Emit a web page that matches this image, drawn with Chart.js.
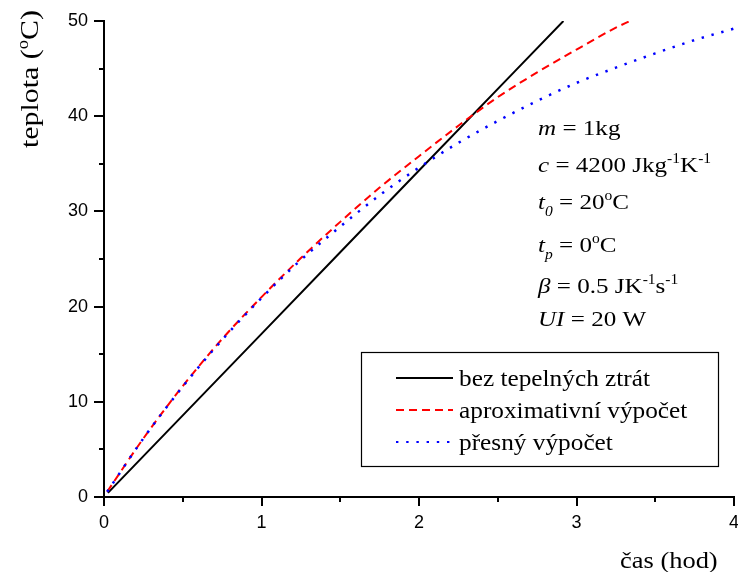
<!DOCTYPE html>
<html><head><meta charset="utf-8">
<script src="https://cdn.jsdelivr.net/npm/chart.js@4"></script>
<style>html,body{margin:0;padding:0;background:#fff}#wrap{width:738px;height:572px;position:relative}</style>
</head><body><div id="wrap"><canvas id="c" width="738" height="572"></canvas></div>
<script>
// ---- data ----
const timeNoLoss = [0.025, 1, 2, 2.917];
const tempNoLoss = [0.43, 17.14, 34.29, 50];
const timeApprox = [0.02, 0.25, 0.5, 0.75, 1, 1.25, 1.5, 1.75, 2, 2.25, 2.5, 2.75, 3, 3.25, 3.34];
const tempApprox = [0.55, 6.15, 11.65, 16.6, 21.0, 25.1, 28.9, 32.5, 35.8, 39.0, 42.0, 44.6, 47.0, 49.3, 50.0];
const timeExact = [0.02, 0.25, 0.5, 0.75, 1, 1.25, 1.5, 1.75, 2, 2.25, 2.5, 2.75, 3, 3.25, 3.5, 3.75, 4];
const tempExact = [0.55, 6.15, 11.6, 16.5, 20.9, 24.9, 28.4, 31.7, 34.6, 37.2, 39.5, 41.6, 43.5, 45.1, 46.6, 48.0, 49.2];
const xMajorTicks = [0, 1, 2, 3, 4];
const xMinorTicks = [0.5, 1.5, 2.5, 3.5];
const yMajorTicks = [0, 10, 20, 30, 40, 50];
const yMinorTicks = [5, 15, 25, 35, 45];
const seriesLabels = ['bez tepelných ztrát', 'aproximativní výpočet', 'přesný výpočet'];
const xTitle = 'čas (hod)';
const yTitle = [{t:'teplota ('}, {t:'o', sup:true}, {t:'C)'}];
const paramLines = [
  [{t:'m', i:true}, {t:' = 1kg'}],
  [{t:'c', i:true}, {t:' = 4200 Jkg'}, {t:'-1', sup:true}, {t:'K'}, {t:'-1', sup:true}],
  [{t:'t', i:true}, {t:'0', i:true, sub:true}, {t:' = 20'}, {t:'o', sup:true}, {t:'C'}],
  [{t:'t', i:true}, {t:'p', i:true, sub:true}, {t:' = 0'}, {t:'o', sup:true}, {t:'C'}],
  [{t:'β', i:true}, {t:' = 0.5 JK'}, {t:'-1', sup:true}, {t:'s'}, {t:'-1', sup:true}],
  [{t:'UI', i:true}, {t:' = 20 W'}]
];

const toXY = (xs, ys) => xs.map((x, k) => ({x: x, y: ys[k]}));
const SERIF = '"Liberation Serif", "Times New Roman", serif';
const SANS = '"Liberation Sans", Arial, sans-serif';

function drawRich(ctx, segs, size) {
  let cx = 0;
  for (const s of segs) {
    const small = s.sup || s.sub;
    const fs = small ? size * 0.62 : size;
    ctx.font = (s.i ? 'italic ' : '') + fs + 'px ' + SERIF;
    const dy = s.sup ? -size * 0.40 : (s.sub ? size * 0.32 : 0);
    ctx.fillText(s.t, cx, dy);
    cx += ctx.measureText(s.t).width;
  }
  return cx;
}

const decor = {
  id: 'decor',
  afterDraw(chart) {
    const ctx = chart.ctx;
    const xs = chart.scales.x, ys = chart.scales.y;
    const ax = chart.chartArea.left, ay = chart.chartArea.bottom;
    ctx.save();
    ctx.strokeStyle = '#000';
    ctx.lineWidth = 2;
    ctx.beginPath();
    xMajorTicks.forEach(v => { const p = Math.round(xs.getPixelForValue(v)); ctx.moveTo(p, ay); ctx.lineTo(p, ay + 9); });
    xMinorTicks.forEach(v => { const p = Math.round(xs.getPixelForValue(v)); ctx.moveTo(p, ay); ctx.lineTo(p, ay + 5); });
    yMajorTicks.forEach(v => { const p = Math.round(ys.getPixelForValue(v)); ctx.moveTo(ax, p); ctx.lineTo(ax - 10, p); });
    yMinorTicks.forEach(v => { const p = Math.round(ys.getPixelForValue(v)); ctx.moveTo(ax, p); ctx.lineTo(ax - 5, p); });
    ctx.stroke();

    ctx.fillStyle = '#000';
    ctx.textBaseline = 'alphabetic';
    ctx.textAlign = 'left';
    // parameter block
    const baselines = [135, 172, 209, 252, 293, 326];
    paramLines.forEach((line, k) => {
      ctx.save(); ctx.translate(538, baselines[k]); ctx.scale(1.14, 1);
      drawRich(ctx, line, 22);
      ctx.restore();
    });
    // legend box
    ctx.lineWidth = 1.2;
    ctx.strokeStyle = '#000';
    ctx.strokeRect(361.5, 352.5, 357, 114);
    const rows = [378, 410, 442];
    chart.data.datasets.forEach((ds, k) => {
      ctx.save();
      ctx.strokeStyle = ds.borderColor;
      ctx.lineWidth = 2;
      ctx.setLineDash(ds.borderDash || []);
      ctx.beginPath(); ctx.moveTo(396, rows[k]); ctx.lineTo(453, rows[k]); ctx.stroke();
      ctx.restore();
      ctx.save(); ctx.translate(459, rows[k] + 8); ctx.scale(1.1, 1);
      ctx.font = '23px ' + SERIF;
      ctx.fillText(ds.label, 0, 0);
      ctx.restore();
    });
    // x title
    ctx.save(); ctx.translate(620, 568); ctx.scale(1.15, 1);
    ctx.font = '23px ' + SERIF; ctx.fillText(xTitle, 0, 0);
    ctx.restore();
    // y title
    ctx.save(); ctx.translate(38, 148); ctx.rotate(-Math.PI / 2); ctx.scale(1.15, 1);
    drawRich(ctx, yTitle, 26);
    ctx.restore();
    ctx.restore();
  }
};

new Chart(document.getElementById('c'), {
  type: 'line',
  data: {
    datasets: [
      {label: seriesLabels[0], data: toXY(timeNoLoss, tempNoLoss), borderColor: '#000000', borderWidth: 2, order: 2},
      {label: seriesLabels[1], data: toXY(timeApprox, tempApprox), borderColor: '#ff0000', borderWidth: 2, borderDash: [8, 5], order: 1},
      {label: seriesLabels[2], data: toXY(timeExact, tempExact), borderColor: '#0000ff', borderWidth: 2.5, borderDash: [2.4, 7.8], order: 0}
    ]
  },
  options: {
    responsive: false,
    animation: false,
    events: [],
    parsing: false,
    elements: {point: {radius: 0}, line: {cubicInterpolationMode: 'monotone', fill: false}},
    layout: {padding: {left: 0, right: 4, top: 21, bottom: 0}},
    plugins: {legend: {display: false}, tooltip: {enabled: false}, title: {display: false}},
    scales: {
      x: {
        type: 'linear', min: 0, max: 4,
        afterBuildTicks: s => { s.ticks = xMajorTicks.map(v => ({value: v})); },
        afterFit: s => { s.height = 75; s.paddingLeft = 0; s.paddingRight = 0; },
        grid: {display: false, drawTicks: false},
        border: {display: true, color: '#000', width: 2},
        ticks: {padding: 15, color: '#000', maxRotation: 0, font: {family: SANS, size: 18}}
      },
      y: {
        type: 'linear', min: 0, max: 50,
        afterBuildTicks: s => { s.ticks = yMajorTicks.map(v => ({value: v})); },
        afterFit: s => { s.width = 104; s.paddingTop = 0; s.paddingBottom = 0; },
        grid: {display: false, drawTicks: false},
        border: {display: true, color: '#000', width: 2},
        ticks: {padding: 16, color: '#000', font: {family: SANS, size: 18}}
      }
    }
  },
  plugins: [decor]
});
</script>
</body></html>
